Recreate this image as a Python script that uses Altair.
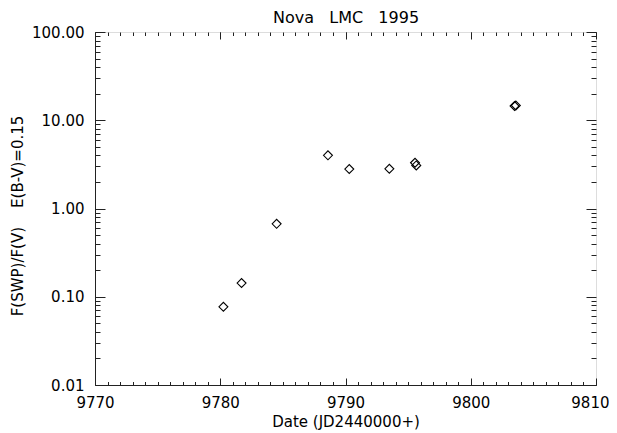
import altair as alt
import pandas as pd

# Data
jd = [9780.25, 9781.7, 9784.5, 9788.6, 9790.3, 9793.5, 9795.55, 9795.65, 9803.5, 9803.6]
ratio = [0.077, 0.143, 0.67, 4.0, 2.8, 2.82, 3.3, 3.08, 14.5, 14.7]

x_labels_main = [9770, 9780, 9790, 9800]
x_label_last = [9810]
x_major = [9770, 9780, 9790, 9800, 9810]
x_minor = list(range(9770, 9811))
y_major = [0.01, 0.1, 1, 10, 100]
y_minor = [k * 10.0 ** d for d in (-2, -1, 0, 1) for k in range(2, 10)]

NB = "\u00a0"
TITLE = "Nova" + NB * 3 + "LMC" + NB * 3 + "1995"
XTITLE = "Date (JD2440000+)"
YTITLE = "F(SWP)/F(V)" + NB * 4 + "E(B-V)=0.15"

W, H = 501, 353
FONT = "DejaVu Sans"
AX = "#222222"

df = pd.DataFrame({"jd": jd, "ratio": ratio})

xscale = alt.Scale(domain=[9770, 9810], nice=False, zero=False)
yscale = alt.Scale(type="log", domain=[0.01, 100], nice=False)

base = alt.Chart(df)

main = base.mark_point(shape="diamond", filled=False, color="black",
                       strokeWidth=1.1, size=80, opacity=1).encode(
    x=alt.X("jd:Q", scale=xscale,
            axis=alt.Axis(orient="bottom", values=x_labels_main, format="d", ticks=False,
                          grid=False, domain=True, domainColor=AX,
                          labelFont=FONT, labelFontSize=15, labelColor="black",
                          labelPadding=10, labelFlush=False,
                          title=XTITLE, titleFont=FONT, titleFontSize=15,
                          titleFontWeight="normal", titleColor="black",
                          titleX=W / 2, titleY=41, titleBaseline="alphabetic",
                          titleAlign="center")),
    y=alt.Y("ratio:Q", scale=yscale,
            axis=alt.Axis(orient="left", values=y_major, format=".2f", ticks=False,
                          grid=False, domain=True, domainColor=AX,
                          labelFont=FONT, labelFontSize=15, labelColor="black",
                          labelPadding=11, labelFlush=False,
                          title=YTITLE, titleFont=FONT,
                          titleFontSize=15, titleFontWeight="normal",
                          titleColor="black", titleX=-78, titleY=H / 2 + 7,
                          titleAngle=270, titleBaseline="middle",
                          titleAlign="center")),
)

last_label = base.mark_point(opacity=0).encode(
    x=alt.X("jd:Q", scale=xscale,
            axis=alt.Axis(orient="bottom", values=x_label_last, format="d", ticks=False,
                          grid=False, domain=False, labelFont=FONT, labelFontSize=15,
                          labelColor="black", labelPadding=10, labelFlush=True,
                          labelFlushOffset=13, title=None)),
    y=alt.Y("ratio:Q", scale=yscale, axis=None),
)


def tick_layer(xorient, xoff, xvals, xlen, yorient, yoff, yvals, ylen):
    return base.mark_point(opacity=0).encode(
        x=alt.X("jd:Q", scale=xscale,
                axis=alt.Axis(orient=xorient, offset=xoff, values=xvals, ticks=True,
                              tickSize=xlen, tickColor=AX, tickWidth=1, labels=False,
                              domain=False, grid=False, title=None)),
        y=alt.Y("ratio:Q", scale=yscale,
                axis=alt.Axis(orient=yorient, offset=yoff, values=yvals, ticks=True,
                              tickSize=ylen, tickColor=AX, tickWidth=1, labels=False,
                              domain=False, grid=False, title=None)),
    )


title_layer = base.mark_point(opacity=0).encode(
    x=alt.X("jd:Q", scale=xscale,
            axis=alt.Axis(orient="top", ticks=False, labels=False, domain=False,
                          grid=False, title=TITLE, titleFont=FONT, titleFontSize=16,
                          titleFontWeight="normal", titleColor="black",
                          titleX=W / 2, titleY=-10, titleBaseline="alphabetic",
                          titleAlign="center")),
    y=alt.Y("ratio:Q", scale=yscale, axis=None),
)

layers = [
    main,
    last_label,
    # ticks along the bottom and left edges pointing inward
    tick_layer("top", -H, x_major, 7, "right", -W, y_major, 10),
    tick_layer("top", -H, x_minor, 3.5, "right", -W, y_minor, 5),
    # ticks along the top and right edges pointing inward
    tick_layer("bottom", -H, x_major, 7, "left", -W, y_major, 10),
    tick_layer("bottom", -H, x_minor, 3.5, "left", -W, y_minor, 5),
    title_layer,
]

chart = alt.layer(*layers).resolve_axis(x="independent", y="independent").properties(
    width=W, height=H,
    autosize=alt.AutoSizeParams(type="none"),
    padding={"left": 87, "top": 24, "right": 13, "bottom": 47},
).configure_view(stroke=AX, strokeWidth=1).configure(background="white")

chart.save("out.html", embed_options={"renderer": "svg", "actions": False})
